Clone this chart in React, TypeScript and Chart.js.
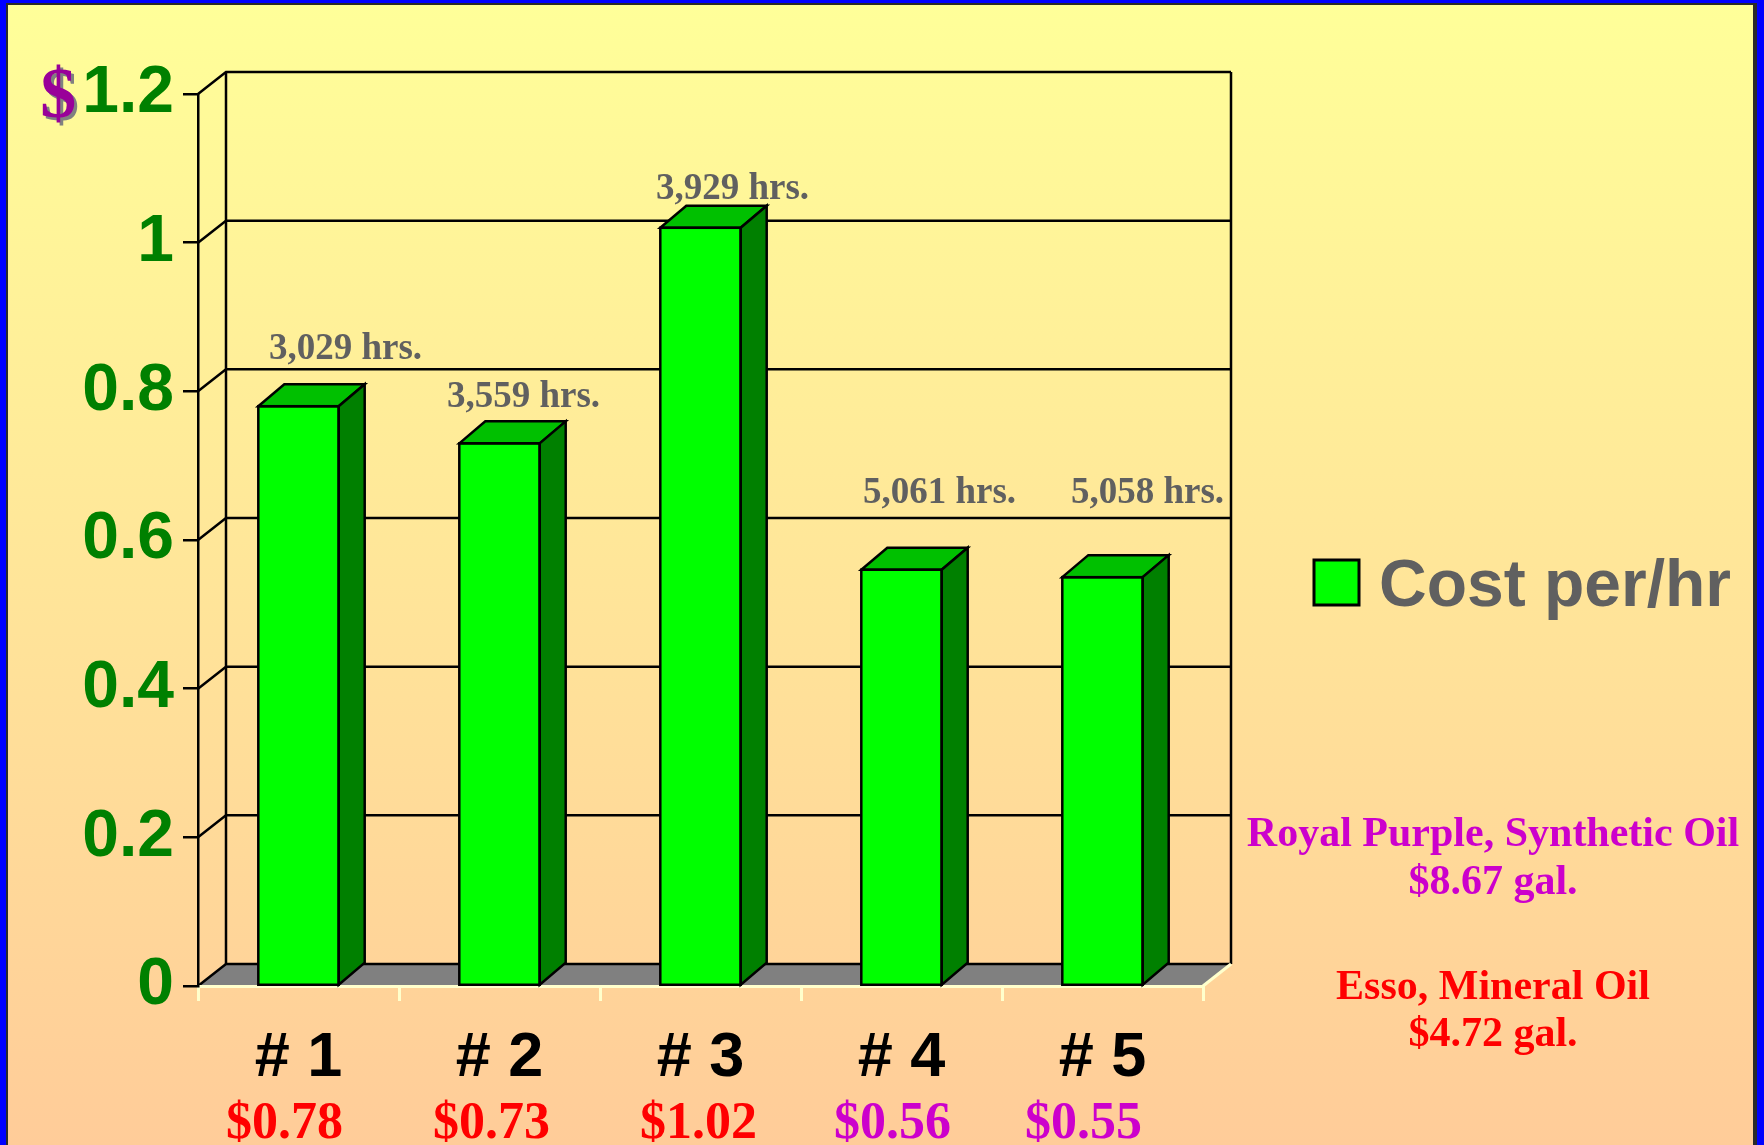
import { useEffect, useRef } from 'react';
import { Chart, registerables } from 'chart.js';

Chart.register(...registerables);

// ---------- data ----------
const CATEGORIES = ['# 1', '# 2', '# 3', '# 4', '# 5'];
const COST_PER_HR = [0.78, 0.73, 1.02, 0.56, 0.55];
const HOURS_LABELS = ['3,029 hrs.', '3,559 hrs.', '3,929 hrs.', '5,061 hrs.', '5,058 hrs.'];
const COST_LABELS = ['$0.78', '$0.73', '$1.02', '$0.56', '$0.55'];
const OIL_KIND = ['mineral', 'mineral', 'mineral', 'synthetic', 'synthetic'];
const Y_TICKS = [0, 0.2, 0.4, 0.6, 0.8, 1, 1.2];
const SERIES_LABEL = 'Cost per/hr';
const SYNTH_NOTE = ['Royal Purple, Synthetic Oil', '$8.67 gal.'];
const MINERAL_NOTE = ['Esso, Mineral Oil', '$4.72 gal.'];

// ---------- layout / style ----------
const W = 1764;
const H = 1145;
const SANS = '"Liberation Sans", Arial, sans-serif';
const SERIF = '"Liberation Serif", "Times New Roman", serif';
const WALL_DX = 28;
const WALL_DY = -22;
const BAR_DX = 26;
const BAR_DY = -22;
const PALE = '#FFFFCC';
const KIND_COLOR: Record<string, string> = { mineral: '#FF0000', synthetic: '#CC00CC' };
// hour label nudges relative to bar front-top centre (baseline)
const LABEL_NUDGE = [
  [47, -47],
  [24, -36],
  [32, -29],
  [38, -67],
  [45, -74],
];
// horizontal nudges of the cost labels under the categories
const COST_NUDGE = [-14, -8, -2, -9, -19];

const deco = {
  id: 'deco3d',
  beforeDraw(chart: any) {
    const ctx = chart.ctx as CanvasRenderingContext2D;
    const { left, right, top, bottom } = chart.chartArea;
    const ys = chart.scales.y;
    ctx.save();
    // background gradient
    const g = ctx.createLinearGradient(0, 0, 0, H);
    g.addColorStop(0, '#FFFF99');
    g.addColorStop(1, '#FFCC99');
    ctx.fillStyle = g;
    ctx.fillRect(0, 0, W, H);
    // slide frame
    ctx.fillStyle = '#0000FF';
    ctx.fillRect(0, 0, 6, H);
    ctx.fillRect(0, 0, W, 3);
    ctx.fillRect(1757, 0, 7, H);
    ctx.fillStyle = '#2a2a2a';
    ctx.fillRect(6, 3, 2, H);
    ctx.fillRect(6, 3, 1751, 2);
    ctx.fillRect(1753, 3, 4, H);

    // walls & gridlines
    ctx.strokeStyle = '#000';
    ctx.lineWidth = 2.5;
    ctx.lineJoin = 'miter';
    Y_TICKS.forEach((v) => {
      if (v === 0) return;
      const py = ys.getPixelForValue(v);
      ctx.beginPath();
      ctx.moveTo(left, py);
      ctx.lineTo(left + WALL_DX, py + WALL_DY);
      ctx.lineTo(right + WALL_DX, py + WALL_DY);
      ctx.stroke();
    });
    ctx.beginPath();
    ctx.moveTo(left + WALL_DX, top + WALL_DY);
    ctx.lineTo(left + WALL_DX, bottom + WALL_DY);
    ctx.moveTo(right + WALL_DX, top + WALL_DY);
    ctx.lineTo(right + WALL_DX, bottom + WALL_DY);
    ctx.stroke();

    // floor
    ctx.fillStyle = '#808080';
    ctx.beginPath();
    ctx.moveTo(left, bottom);
    ctx.lineTo(right, bottom);
    ctx.lineTo(right + WALL_DX, bottom + WALL_DY);
    ctx.lineTo(left + WALL_DX, bottom + WALL_DY);
    ctx.closePath();
    ctx.fill();
    ctx.beginPath();
    ctx.moveTo(left, bottom);
    ctx.lineTo(left + WALL_DX, bottom + WALL_DY);
    ctx.lineTo(right + WALL_DX, bottom + WALL_DY);
    ctx.stroke();
    ctx.strokeStyle = PALE;
    ctx.lineWidth = 3;
    ctx.beginPath();
    ctx.moveTo(right, bottom);
    ctx.lineTo(right + WALL_DX, bottom + WALL_DY);
    ctx.stroke();
    ctx.restore();
  },
  afterDatasetsDraw(chart: any) {
    const ctx = chart.ctx as CanvasRenderingContext2D;
    const meta = chart.getDatasetMeta(0);
    ctx.save();
    ctx.strokeStyle = '#000';
    ctx.lineWidth = 2.5;
    ctx.lineJoin = 'miter';
    meta.data.forEach((el: any, i: number) => {
      const { x, y, base, width } = el.getProps(['x', 'y', 'base', 'width'], true);
      const l = x - width / 2;
      const r = x + width / 2;
      // top face
      ctx.fillStyle = '#00C000';
      ctx.beginPath();
      ctx.moveTo(l, y);
      ctx.lineTo(l + BAR_DX, y + BAR_DY);
      ctx.lineTo(r + BAR_DX, y + BAR_DY);
      ctx.lineTo(r, y);
      ctx.closePath();
      ctx.fill();
      ctx.stroke();
      // side face
      ctx.fillStyle = '#008000';
      ctx.beginPath();
      ctx.moveTo(r, y);
      ctx.lineTo(r + BAR_DX, y + BAR_DY);
      ctx.lineTo(r + BAR_DX, base + BAR_DY);
      ctx.lineTo(r, base);
      ctx.closePath();
      ctx.fill();
      ctx.stroke();
      // front outline
      ctx.strokeRect(l, y, width, base - y);
      // hours label
      const [nx, ny] = LABEL_NUDGE[i];
      ctx.fillStyle = '#606060';
      ctx.font = `bold 37px ${SERIF}`;
      ctx.textAlign = 'center';
      ctx.textBaseline = 'alphabetic';
      ctx.fillText(HOURS_LABELS[i], x + nx, y + ny);
    });
    ctx.restore();
  },
  afterDraw(chart: any) {
    const ctx = chart.ctx as CanvasRenderingContext2D;
    const xs = chart.scales.x;
    const ys = chart.scales.y;
    ctx.save();
    // "$" prefix on top tick
    ctx.font = `bold 66px ${SANS}`;
    const topW = ctx.measureText('1.2').width;
    const labelRight = ys.right - 15 - 9;
    const yTop = ys.getPixelForValue(1.2);
    ctx.font = `bold 72px ${SERIF}`;
    ctx.textAlign = 'right';
    ctx.textBaseline = 'alphabetic';
    ctx.fillStyle = '#808080';
    ctx.fillText('$', labelRight - topW - 3, yTop + 26);
    ctx.fillStyle = '#990099';
    ctx.fillText('$', labelRight - topW - 6, yTop + 23);

    // cost labels under categories
    ctx.font = `bold 52px ${SERIF}`;
    ctx.textAlign = 'center';
    COST_LABELS.forEach((t, i) => {
      ctx.fillStyle = KIND_COLOR[OIL_KIND[i]];
      ctx.fillText(t, xs.getPixelForValue(i) + COST_NUDGE[i], 1138);
    });

    // legend
    const ds = chart.data.datasets[0];
    ctx.fillStyle = ds.backgroundColor;
    ctx.fillRect(1314, 560, 45, 45);
    ctx.strokeStyle = '#000';
    ctx.lineWidth = 3;
    ctx.strokeRect(1314, 560, 45, 45);
    ctx.fillStyle = '#606060';
    ctx.font = `bold 66px ${SANS}`;
    ctx.textAlign = 'left';
    ctx.fillText(ds.label, 1379, 606);

    // oil notes
    ctx.font = `bold 42px ${SERIF}`;
    ctx.textAlign = 'center';
    ctx.fillStyle = '#CC00CC';
    ctx.fillText(SYNTH_NOTE[0], 1493, 846);
    ctx.fillText(SYNTH_NOTE[1], 1493, 894);
    ctx.fillStyle = '#FF0000';
    ctx.fillText(MINERAL_NOTE[0], 1493, 999);
    ctx.fillText(MINERAL_NOTE[1], 1493, 1046);
    ctx.restore();
  },
};

export default function App() {
  const ref = useRef<HTMLCanvasElement | null>(null);
  useEffect(() => {
    document.body.style.margin = '0';
    if (!ref.current) return;
    const chart = new Chart(ref.current, {
      type: 'bar',
      data: {
        labels: CATEGORIES,
        datasets: [
          {
            label: SERIES_LABEL,
            data: COST_PER_HR,
            backgroundColor: '#00FF00',
            borderColor: '#000000',
            borderWidth: 0,
            barPercentage: 0.4,
            categoryPercentage: 1,
          },
        ],
      },
      options: {
        responsive: false,
        animation: false,
        devicePixelRatio: 1,
        layout: { padding: { top: 94, right: 561, left: 0, bottom: 0 } },
        plugins: { legend: { display: false }, tooltip: { enabled: false } },
        scales: {
          x: {
            offset: true,
            grid: {
              offset: true,
              drawOnChartArea: false,
              drawTicks: true,
              tickLength: 15,
              color: PALE,
              lineWidth: 3,
            },
            border: { display: true, color: PALE, width: 3 },
            ticks: {
              font: { family: SANS, size: 63, weight: 'bold', lineHeight: 1 },
              color: '#000000',
              padding: 26,
              maxRotation: 0,
              autoSkip: false,
            },
            afterFit: (s: any) => {
              s.height = 159;
            },
          },
          y: {
            min: 0,
            max: 1.2,
            afterBuildTicks: (s: any) => {
              s.ticks = Y_TICKS.map((v) => ({ value: v }));
            },
            ticks: {
              callback: (v: any) => String(Math.round(Number(v) * 10) / 10),
              font: { family: SANS, size: 66, weight: 'bold', lineHeight: 1 },
              color: '#008000',
              padding: 9,
            },
            grid: {
              drawOnChartArea: false,
              drawTicks: true,
              tickLength: 15,
              color: '#000000',
              lineWidth: 2.5,
            },
            border: { display: true, color: '#000000', width: 2.5 },
            afterFit: (s: any) => {
              s.width = 198;
            },
          },
        },
      },
      plugins: [deco],
    });
    return () => chart.destroy();
  }, []);
  return (
    <div style={{ position: 'fixed', left: 0, top: 0, width: W, height: H }}>
      <canvas ref={ref} width={W} height={H} style={{ display: 'block', width: W, height: H }} />
    </div>
  );
}
